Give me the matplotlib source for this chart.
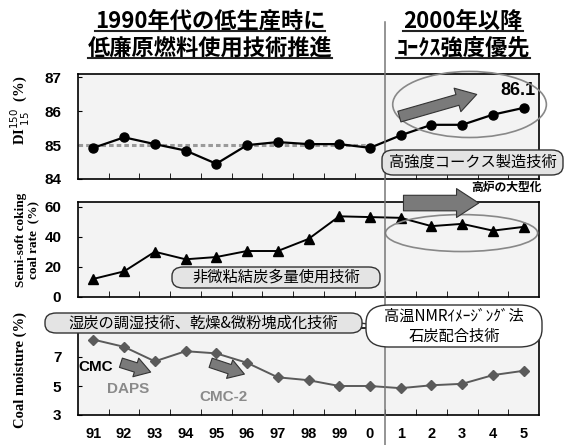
import matplotlib.pyplot as plt
import numpy as np
from matplotlib.patches import Ellipse, FancyArrowPatch, FancyBboxPatch
from matplotlib.lines import Line2D
from matplotlib.transforms import blended_transform_factory

plt.rcParams['font.family'] = ['Noto Sans CJK JP', 'DejaVu Sans']

# 年度（1991〜2005）
years = ['91', '92', '93', '94', '95', '96', '97', '98', '99', '0',
         '1', '2', '3', '4', '5']
# コークス強度 DI150-15 (%)
di_values = [84.92, 85.23, 85.03, 84.84, 84.45, 85.0, 85.09, 85.03, 85.03,
             84.92, 85.29, 85.6, 85.6, 85.9, 86.1]
# 非微粘結炭配合率 (%)
semisoft_rate = [12, 17, 30, 25, 26.5, 30.5, 30.5, 38.5, 53.5, 53,
                 52.5, 47, 48.5, 44, 46.5]
# 石炭水分 (%)
moisture = [8.2, 7.7, 6.7, 7.4, 7.25, 6.6, 5.6, 5.4, 5.0, 5.0,
            4.85, 5.05, 5.15, 5.75, 6.05]

W, H = 568, 445
fig = plt.figure(figsize=(W / 100, H / 100), dpi=100)


def fx(px):
    return px / W


def fy(py):
    return 1 - py / H


def make_axes(top, bottom):
    ax = fig.add_axes([fx(78), fy(bottom), fx(539) - fx(78), fy(top) - fy(bottom)])
    ax.set_facecolor('#f3f3f3')
    ax.set_xlim(-0.5, len(years) - 0.5)
    for s in ax.spines.values():
        s.set_linewidth(1.2)
    ax.set_xticks(range(len(years)))
    ax.set_xticks(np.arange(len(years) - 1) + 0.5, minor=True)
    ax.tick_params(axis='x', which='major', length=0)
    ax.tick_params(axis='x', which='minor', direction='in', length=4)
    ax.tick_params(axis='y', direction='in', length=3, pad=12)
    return ax


tick_font = dict(family='Liberation Sans', weight='bold', size=11)

# --- DI ---
ax1 = make_axes(74, 179)
ax1.set_ylim(84, 87.1)
ax1.set_yticks([84, 85, 86, 87])
ax1.set_yticklabels(['84', '85', '86', '87'], fontdict=tick_font)
ax1.set_xticklabels([])
ax1.hlines(85, -0.5, 9, colors='#9a9a9a', linestyles=(0, (1.5, 1)), lw=2.2, zorder=2)
x = np.arange(len(years))
ax1.plot(x, di_values, color='black', lw=1.6, marker='o', ms=6.5, zorder=3)
ax1.text(13.8, di_values[-1] + 0.5, f'{di_values[-1]}', ha='center', va='center',
         fontsize=13, fontweight='bold', family='Liberation Sans')
ax1.add_patch(Ellipse((12.24, 86.2), 5.0, 1.95, fill=False, ec='#888888', lw=1.2,
                      clip_on=False, zorder=4))
ax1.add_patch(FancyArrowPatch((9.87, 85.82), (12.56, 86.52),
                              arrowstyle='simple,tail_width=0.5,head_width=1.1,head_length=0.9',
                              mutation_scale=16, fc='#7a7a7a', ec='#333333', lw=0.8,
                              clip_on=False, zorder=5))

# --- 非微粘結炭配合率 ---
ax2 = make_axes(202, 297)
ax2.set_ylim(0, 63)
ax2.set_yticks([0, 20, 40, 60])
ax2.set_yticklabels(['0', '20', '40', '60'], fontdict=tick_font)
ax2.set_xticklabels([])
ax2.plot(x, semisoft_rate, color='black', lw=1.4, marker='^', ms=6.5, zorder=3)
ax2.add_patch(Ellipse((11.98, 42.4), 4.95, 24.5, fill=False, ec='#888888', lw=1.2,
                      clip_on=False, zorder=4))
ax2.add_patch(FancyArrowPatch((10.0, 62.3), (12.63, 62.3),
                              arrowstyle='simple,tail_width=0.7,head_width=1.3,head_length=1.0',
                              mutation_scale=16, fc='#7a7a7a', ec='#333333', lw=0.8,
                              clip_on=False, zorder=5))
ax2.text(13.44, 73, '高炉の大型化', ha='center', va='center', fontsize=8.5,
         fontweight='bold')

# --- 石炭水分 ---
ax3 = make_axes(328, 415)
ax3.set_ylim(3, 9)
ax3.set_yticks([3, 5, 7])
ax3.set_yticklabels(['3', '5', '7'], fontdict=tick_font)
ax3.set_xticklabels(years, fontdict=dict(family='Liberation Sans', weight='bold', size=10.5))
ax3.tick_params(axis='x', which='major', pad=9)
ax3.plot(x, moisture, color='#5a5a5a', lw=1.4, marker='D', ms=5, zorder=3)
ax3.text(-0.49, 6.31, 'CMC', ha='left', va='center', fontsize=11, fontweight='bold',
         family='Liberation Sans')
ax3.text(1.14, 4.79, 'DAPS', ha='center', va='center', fontsize=11, fontweight='bold',
         color='#8a8a8a', family='Liberation Sans')
ax3.text(4.22, 4.24, 'CMC-2', ha='center', va='center', fontsize=11, fontweight='bold',
         color='#8a8a8a', family='Liberation Sans')
for (x0, y0), (x1, y1) in [((0.81, 6.66), (1.95, 5.9)), ((3.73, 6.66), (5.0, 5.76))]:
    ax3.add_patch(FancyArrowPatch((x0, y0), (x1, y1),
                                  arrowstyle='simple,tail_width=0.5,head_width=1.0,head_length=0.8',
                                  mutation_scale=14, fc='#7a7a7a', ec='#333333', lw=0.8,
                                  zorder=5))

# 年代の区切り線
sep = blended_transform_factory(ax1.transData, fig.transFigure)
fig.add_artist(Line2D([9.5, 9.5], [0, fy(22)], transform=sep, color='#777777', lw=1.1))

# y軸ラベル
ylab_font = dict(family='Liberation Serif', weight='bold', rotation=90,
                 ha='center', va='center')
fig.text(fx(20), fy(110), r'DI$^{150}_{\ 15}$  (%)', fontsize=10.5, **ylab_font)
fig.text(fx(27), fy(240), 'Semi-soft coking\ncoal rate  (%)', fontsize=9.5,
         linespacing=1.1, **ylab_font)
fig.text(fx(20), fy(370), 'Coal moisture (%)', fontsize=10.5, **ylab_font)


def label_box(x0, y0, x1, y1, text, fc, size=11, rs=0.02):
    box = FancyBboxPatch((fx(x0), fy(y1)), fx(x1) - fx(x0), fy(y0) - fy(y1),
                         boxstyle=f'round,pad=0,rounding_size={rs}',
                         transform=fig.transFigure, fc=fc, ec='#333333', lw=1.0,
                         zorder=6)
    fig.add_artist(box)
    fig.text(fx((x0 + x1) / 2), fy((y0 + y1) / 2), text, ha='center', va='center',
             fontsize=size, linespacing=1.25, zorder=7)


label_box(382, 150, 563, 175, '高強度コークス製造技術', '#e4e4e4')
label_box(172, 267, 380, 288, '非微粘結炭多量使用技術', '#e4e4e4')
fig.add_artist(Line2D([fx(360), fx(368)], [fy(323), fy(324)], transform=fig.transFigure,
                      color='#333333', lw=1.0))
label_box(45, 313, 362, 333, '湿炭の調湿技術、乾燥&微粉塊成化技術', '#e4e4e4')
label_box(366, 305, 542, 347, '高温NMRｲﾒｰｼﾞﾝｸﾞ法\n石炭配合技術', 'white', rs=0.04)

# 見出し（下線付き）
heads = [
    fig.text(fx(210), fy(21), '1990年代の低生産時に', ha='center', va='center',
             fontsize=16, fontweight='bold'),
    fig.text(fx(210), fy(48), '低廉原燃料使用技術推進', ha='center', va='center',
             fontsize=16, fontweight='bold'),
    fig.text(fx(463), fy(21), '2000年以降', ha='center', va='center',
             fontsize=16, fontweight='bold'),
    fig.text(fx(463), fy(48), 'ｺｰｸｽ強度優先', ha='center', va='center',
             fontsize=16, fontweight='bold'),
]
fig.canvas.draw()
r = fig.canvas.get_renderer()
inv = fig.transFigure.inverted()
for t in heads:
    bb = t.get_window_extent(r)
    (a0, b0), (a1, _) = inv.transform([(bb.x0, bb.y0), (bb.x1, bb.y1)])
    fig.add_artist(Line2D([a0, a1], [b0 + 0.004, b0 + 0.004], transform=fig.transFigure,
                          color='#222222', lw=1.5))

fig.savefig('out.png', dpi=100)
